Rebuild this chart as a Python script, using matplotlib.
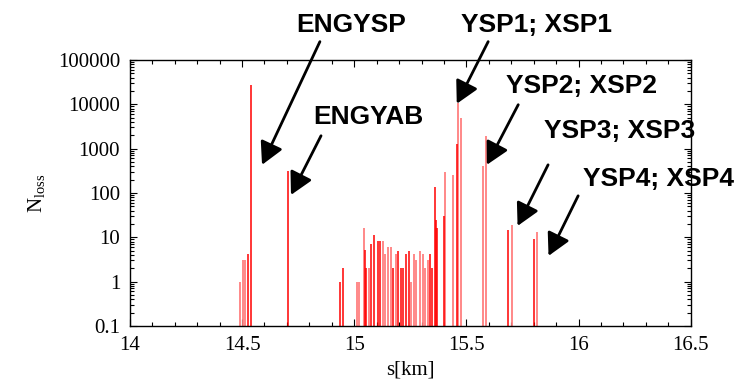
import matplotlib.pyplot as plt
import numpy as np

# loss positions [km] and number of lost particles
s_red = [14.528, 14.538, 14.703, 14.937, 14.951, 15.047, 15.053, 15.075,
         15.090, 15.105, 15.114, 15.172, 15.195, 15.210, 15.219, 15.232,
         15.246, 15.337, 15.347, 15.362, 15.366, 15.371, 15.399, 15.459,
         15.685, 15.801]
n_red = [4.2, 27500, 316, 1.0, 2.0, 5.2, 2.0, 7.2,
         11, 8.2, 8.2, 2.0, 5.0, 2.0, 2.0, 4.1,
         5.0, 4.1, 2.0, 139, 24, 16, 30, 1300,
         14.7, 9.2]

s_light = [14.489, 14.503, 14.513, 15.011, 15.021, 15.042, 15.066, 15.127,
           15.136, 15.149, 15.164, 15.186, 15.255, 15.268, 15.277, 15.292,
           15.306, 15.315, 15.329, 15.404, 15.439, 15.463, 15.477, 15.575,
           15.588, 15.701, 15.814]
n_light = [1.0, 3.0, 3.0, 1.0, 1.0, 16.3, 2.0, 8.2,
           4.1, 6.0, 6.0, 4.1, 1.0, 4.1, 3.0, 5.0,
           4.1, 2.0, 3.0, 300, 256, 10400, 4950, 407,
           1915, 18.7, 13.2]

# collimator labels: text, label centre, arrow start, arrow tip (s, N)
labels = ['ENGYSP', 'ENGYAB', 'YSP1; XSP1', 'YSP2; XSP2', 'YSP3; XSP3', 'YSP4; XSP4']
label_xy = [(14.986, 6.2e5), (15.062, 5200), (15.811, 6.2e5),
            (16.012, 26200), (16.181, 2520), (16.355, 208)]
arrow_from = [(14.847, 2.58e5), (14.852, 1945), (15.597, 2.58e5),
              (15.731, 9750), (15.864, 430), (15.998, 86)]
arrow_to = [(14.589, 430), (14.718, 90), (15.457, 10250),
            (15.591, 430), (15.728, 18), (15.866, 3.8)]

fig = plt.figure(figsize=(7.38, 3.79), dpi=100)
ax = fig.add_axes([0.176, 0.140, 0.760, 0.702])

ax.vlines(s_light, 0.1, n_light, colors='#ff7f7f', linewidth=1.3)
ax.vlines(s_red, 0.1, n_red, colors='#ff0000', linewidth=1.1)

ax.set_yscale('log')
ax.set_xlim(14, 16.5)
ax.set_ylim(0.1, 100000)
ax.set_yticks([0.1, 1, 10, 100, 1000, 10000, 100000])
ax.set_yticklabels(['0.1', '1', '10', '100', '1000', '10000', '100000'])
ax.set_xticks([14, 14.5, 15, 15.5, 16, 16.5])
ax.set_xticklabels(['14', '14.5', '15', '15.5', '16', '16.5'])
ax.set_xticks(np.arange(14, 16.5, 0.1), minor=True)

serif = 'Liberation Serif'
for lab in ax.get_xticklabels() + ax.get_yticklabels():
    lab.set_fontfamily(serif)
    lab.set_fontsize(15)
ax.tick_params(which='both', direction='in', top=True, right=True, width=0.8)
ax.tick_params(which='major', length=5, pad=7)
ax.tick_params(which='minor', length=3)
for sp in ax.spines.values():
    sp.set_linewidth(1.0)

ax.set_xlabel('s[km]', fontfamily=serif, fontsize=15, labelpad=4)
ax.set_ylabel(r'$\mathregular{N_{loss}}$', fontfamily=serif, fontsize=15, labelpad=8)

for text, pos, a0, a1 in zip(labels, label_xy, arrow_from, arrow_to):
    ax.text(pos[0], pos[1], text, fontfamily='Liberation Sans', fontweight='bold',
            fontsize=19, ha='center', va='center', clip_on=False)
    ax.annotate('', xy=a1, xytext=a0, annotation_clip=False,
                arrowprops=dict(arrowstyle='-|>,head_length=0.75,head_width=0.4',
                                mutation_scale=18, lw=2, color='black',
                                shrinkA=0, shrinkB=0))

fig.savefig('out.png', dpi=100)
